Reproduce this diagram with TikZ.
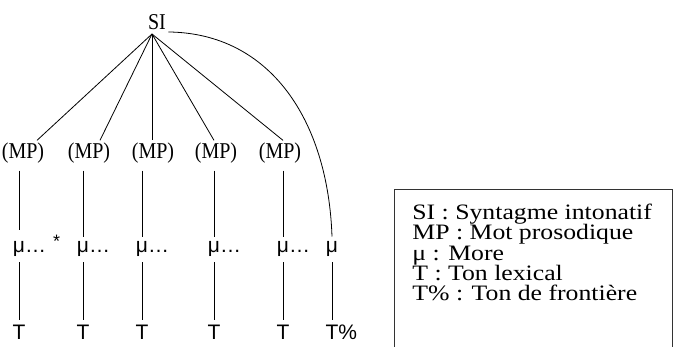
\documentclass[tikz,border=0pt]{standalone}
\usepackage{fontspec}
\setmainfont{Liberation Serif}
\setsansfont{Liberation Sans}
\usepackage{tikz}
\usetikzlibrary{positioning}

\newcommand{\tallbox}[1]{\scalebox{1}[1.13]{#1}}
\newcommand{\widebox}[1]{\scalebox{1.17}[1]{#1}}

\tikzset{
  cat/.style={font=\fontsize{20}{20}\selectfont, inner sep=2pt},
  unit/.style={font=\sffamily\fontsize{21}{21}\selectfont, inner xsep=2pt, inner ysep=5pt, anchor=base},
  key/.style={font=\fontsize{22}{20.3}\selectfont, inner sep=0pt, anchor=base west, align=left},
  stem/.style={shorten <=5pt}
}

\begin{document}
\begin{tikzpicture}[x=1pt, y=-1pt, line width=0.8pt]
            \useasboundingbox (0,0) rectangle (675,347);

            %Nodes
            \node[cat] at (157,22)  (SI)  {\tallbox{SI}};
            \node[cat] at (23,153)  (mp1) {\tallbox{(MP)}};
            \node[cat] at (89,153)  (mp2) {\tallbox{(MP)}};
            \node[cat] at (153,153) (mp3) {\tallbox{(MP)}};
            \node[cat] at (216,153) (mp4) {\tallbox{(MP)}};
            \node[cat] at (280,153) (mp5) {\tallbox{(MP)}};
            \node[unit] at (19,253)  (mu1) {μ\rlap{…\hspace{7pt}{\fontsize{18}{18}\selectfont\raisebox{5pt}{*}}}};
            \node[unit] at (83,253)  (mu2) {μ\rlap{…}};
            \node[unit] at (142,253) (mu3) {μ\rlap{…}};
            \node[unit] at (214,253) (mu4) {μ\rlap{…}};
            \node[unit] at (283,253) (mu5) {μ\rlap{…}};
            \node[unit] at (332,253) (mu6) {μ};
            \node[unit] at (19,340)  (t1)  {T};
            \node[unit] at (83,340)  (t2)  {T};
            \node[unit] at (142,340) (t3)  {T};
            \node[unit] at (214,340) (t4)  {T};
            \node[unit] at (283,340) (t5)  {T};
            \node[unit] at (332,340) (t6)  {T\rlap{\%}};

            %Key
            \node[key] at (412,300.7) (key) {\widebox{SI : Syntagme intonatif}\\
                \widebox{MP : Mot prosodique}\\
                \widebox{μ : More}\\
                \widebox{T : Ton lexical}\\
                \widebox{T\% : Ton de frontière}};
            \draw[black!80, line width=1pt] (394,347) |- (672,190) -- (672,347);

            %Lines
            \draw ([shift={(-5pt,-2pt)}]SI.south) -- ([xshift=14pt]mp1.north);
            \draw ([shift={(-5pt,-2pt)}]SI.south) -- ([xshift=11pt]mp2.north);
            \draw ([shift={(-5pt,-2pt)}]SI.south) -- ([xshift=-1pt]mp3.north);
            \draw ([shift={(-5pt,-2pt)}]SI.south) -- ([xshift=-2pt]mp4.north);
            \draw ([shift={(-5pt,-2pt)}]SI.south) -- ([xshift=3pt]mp5.north);
            \draw (SI.south east) .. controls (270,33) and (328,120) .. (mu6.north);
            \draw[stem] (mp1.south -| mu1.north) -- (mu1.north);
            \draw[stem] (mp2.south -| mu2.north) -- (mu2.north);
            \draw[stem] (mp3.south -| mu3.north) -- (mu3.north);
            \draw[stem] (mp4.south -| mu4.north) -- (mu4.north);
            \draw[stem] (mp5.south -| mu5.north) -- (mu5.north);
            \draw (mu1) -- (t1);
            \draw (mu2) -- (t2);
            \draw (mu3) -- (t3);
            \draw (mu4) -- (t4);
            \draw (mu5) -- (t5);
            \draw (mu6) -- (t6);
\end{tikzpicture}
\end{document}
